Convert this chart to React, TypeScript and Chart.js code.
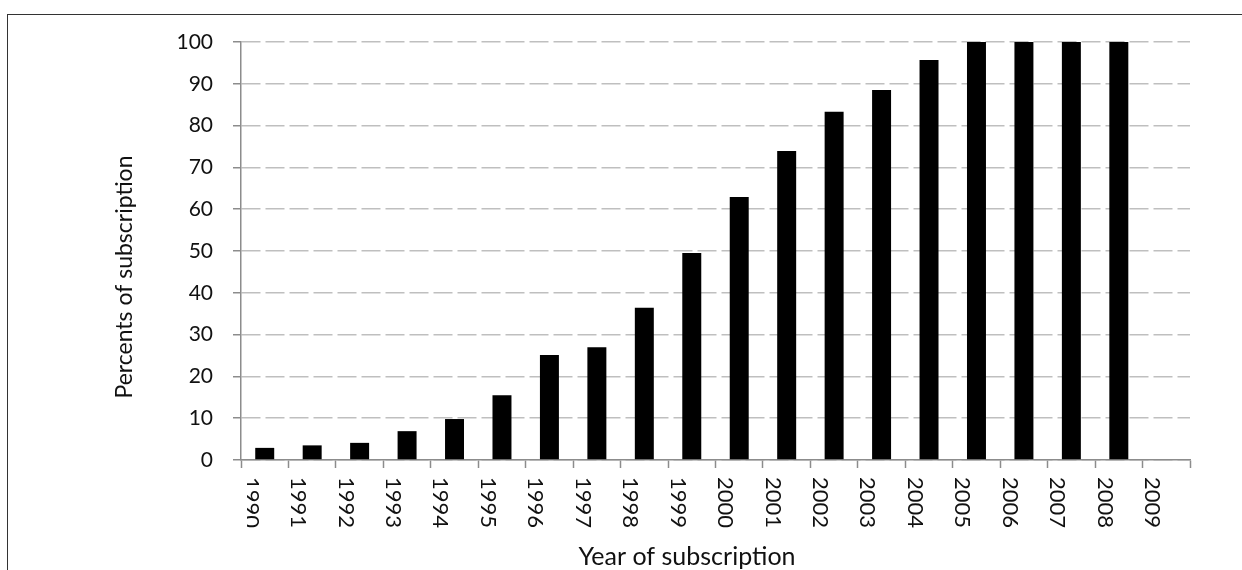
import React, { useEffect, useRef } from "react";
import { Chart, registerables } from "chart.js";

Chart.register(...registerables);

const years: string[] = [
  "1990", "1991", "1992", "1993", "1994", "1995", "1996", "1997", "1998", "1999",
  "2000", "2001", "2002", "2003", "2004", "2005", "2006", "2007", "2008", "2009",
];
const percents: (number | null)[] = [
  2.9, 3.5, 4.1, 6.9, 9.8, 15.5, 25.1, 27.0, 36.4, 49.5,
  62.9, 73.9, 83.3, 88.5, 95.7, 100, 100, 100, 100, null,
];
const yMin = 0;
const yMax = 100;
const yStep = 10;
const xTitle = "Year of subscription";
const yTitle = "Percents of subscription";

const FONT = "Lato";
const TEXT = "#111111";

const textPlugin = {
  id: "customText",
  afterDraw(chart: any) {
    const ctx = chart.ctx as CanvasRenderingContext2D;
    const xs = chart.scales.x;
    ctx.save();
    ctx.fillStyle = TEXT;
    ctx.font = `22px ${FONT}`;
    ctx.textAlign = "left";
    ctx.textBaseline = "middle";
    years.forEach((lab, i) => {
      const x = xs.getPixelForValue(i) - 14;
      ctx.save();
      if (i === 0) {
        ctx.beginPath();
        ctx.rect(xs.left + 6, xs.top, 60, 120);
        ctx.clip();
      }
      ctx.translate(x, 477);
      ctx.rotate(Math.PI / 2);
      ctx.fillText(lab, 0, 0);
      ctx.restore();
    });
    ctx.textAlign = "center";
    ctx.textBaseline = "alphabetic";
    ctx.font = `25px ${FONT}`;
    ctx.fillText(xTitle, 687, 565);
    ctx.save();
    ctx.font = `23px ${FONT}`;
    ctx.translate(132, 277);
    ctx.rotate(-Math.PI / 2);
    ctx.fillText(yTitle, 0, 0);
    ctx.restore();
    ctx.restore();
  },
};

export default function App() {
  const ref = useRef<HTMLCanvasElement | null>(null);
  useEffect(() => {
    if (!ref.current) return;
    const chart = new Chart(ref.current, {
      type: "bar",
      data: {
        labels: years,
        datasets: [
          {
            data: percents,
            backgroundColor: "#000000",
            borderWidth: 0,
            barPercentage: 0.4,
            categoryPercentage: 1,
          },
        ],
      },
      options: {
        animation: false,
        responsive: true,
        maintainAspectRatio: false,
        layout: { padding: { left: 0, right: 52, top: 42, bottom: 0 } },
        plugins: { legend: { display: false }, tooltip: { enabled: false } },
        scales: {
          x: {
            afterFit: (s: any) => {
              s.height = 110;
            },
            ticks: { display: false },
            grid: {
              offset: true,
              drawOnChartArea: false,
              drawTicks: true,
              tickLength: 8,
              tickColor: "#8c8c8c",
              tickWidth: 1.5,
            },
            border: { display: true, color: "#8c8c8c", width: 1.5 },
          },
          y: {
            min: yMin,
            max: yMax,
            afterFit: (s: any) => {
              s.width = 241;
            },
            ticks: {
              stepSize: yStep,
              padding: 20,
              color: TEXT,
              font: { family: FONT, size: 21 },
            },
            grid: {
              color: "#bfbfbf",
              lineWidth: 1.5,
              tickLength: 8,
              tickColor: "#8c8c8c",
              tickWidth: 1.5,
              tickBorderDash: [],
            },
            border: { display: true, color: "#8c8c8c", width: 1.5, dash: [19, 5] },
          },
        },
      },
      plugins: [textPlugin],
    });
    return () => chart.destroy();
  }, []);

  return (
    <div
      style={{
        position: "fixed",
        left: 0,
        top: 0,
        width: 1242,
        height: 570,
        background: "#ffffff",
        overflow: "hidden",
      }}
    >
      <div style={{ position: "absolute", left: 0, top: 0, width: 1242, height: 570 }}>
        <canvas ref={ref} />
      </div>
      <div
        style={{
          position: "absolute",
          left: 8,
          top: 14,
          width: 1234,
          height: 0,
          borderTop: "1.5px solid #333333",
        }}
      />
      <div
        style={{
          position: "absolute",
          left: 7,
          top: 14,
          width: 0,
          height: 556,
          borderLeft: "1.5px solid #333333",
        }}
      />
    </div>
  );
}
